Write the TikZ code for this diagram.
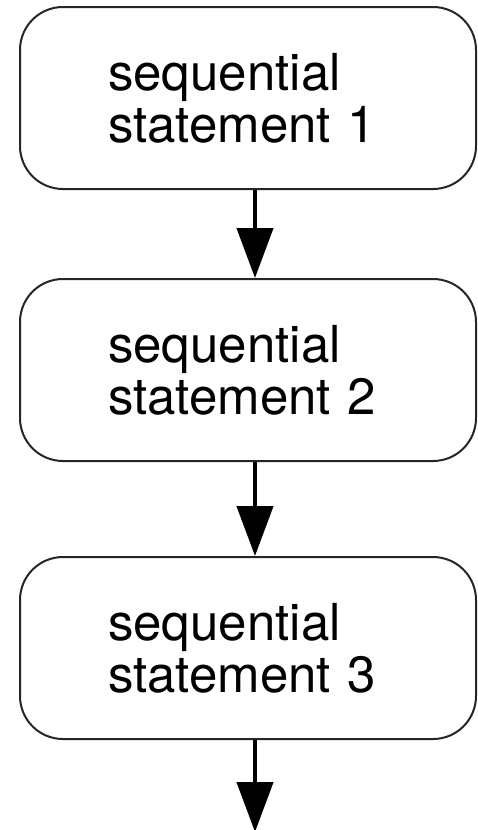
\documentclass[tikz,border=0pt]{standalone}
\usepackage{fontspec}
\setmainfont{TeX Gyre Heros}
\usetikzlibrary{arrows.meta}
\begin{document}
\begin{tikzpicture}[x=0.5pt,y=-0.5pt,
  stmt/.style={draw=black!85, line width=1pt, rounded corners=21.5pt,
    minimum width=228pt, minimum height=91pt, text width=140pt, align=left,
    inner xsep=2pt, font=\fontsize{25.5}{26}\selectfont},
  flow/.style={line width=2.2pt, -{Triangle[length=25pt,width=18pt]}}]
\useasboundingbox (0,0) rectangle (477,830);
\node[stmt] (b1) at (248,98) {sequential\\statement 1};
\node[stmt] (b2) at (248,370) {sequential\\statement 2};
\node[stmt] (b3) at (248,648) {sequential\\statement 3};
\coordinate (end) at (255,832);
\draw[flow] ([xshift=3.5pt]b1.south) -- ([xshift=3.5pt]b2.north);
\draw[flow] ([xshift=3.5pt]b2.south) -- ([xshift=3.5pt]b3.north);
\draw[flow] ([xshift=3.5pt]b3.south) -- (end);
\end{tikzpicture}
\end{document}
